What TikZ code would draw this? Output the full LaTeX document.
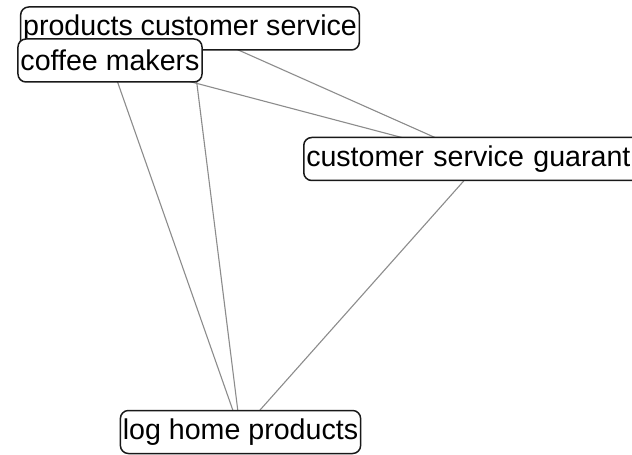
\documentclass[tikz,border=0pt]{standalone}
\usepackage{fontspec}
\setmainfont{Liberation Sans}
\usetikzlibrary{backgrounds}
\begin{document}
\begin{tikzpicture}[x=1bp,y=-1bp,
  term/.style={draw=black!90, line width=1.5bp, rounded corners=8bp, fill=white,
    inner xsep=2.5bp, inner ysep=0bp, minimum height=43bp,
    font=\fontsize{28.7}{30}\selectfont},
  link/.style={draw=black!45, line width=1.1bp}]
\useasboundingbox (0,0) rectangle (632,455);
\clip (0,0) rectangle (632,455);

% terms
\node[term] (pcs) at (190,28.5) {products customer service};
\node[term] (cm) at (110,60.5) {coffee makers};
\node[term, anchor=west, text width=354bp, align=left] (csg) at (303,159) {customer service guarant};
\node[term] (lhp) at (240.5,432) {log home products};

% links between terms, behind the boxes
\begin{scope}[on background layer]
  \fill[white] (0,0) rectangle (632,455);
  \draw[link] (pcs.center) -- (csg.center);
  \draw[link] (cm.center) -- (csg.center);
  \draw[link] (cm.center) -- (lhp.center);
  \draw[link] (pcs.center) -- (lhp.center);
  \draw[link] (csg.center) -- (lhp.center);
\end{scope}
\end{tikzpicture}
\end{document}
